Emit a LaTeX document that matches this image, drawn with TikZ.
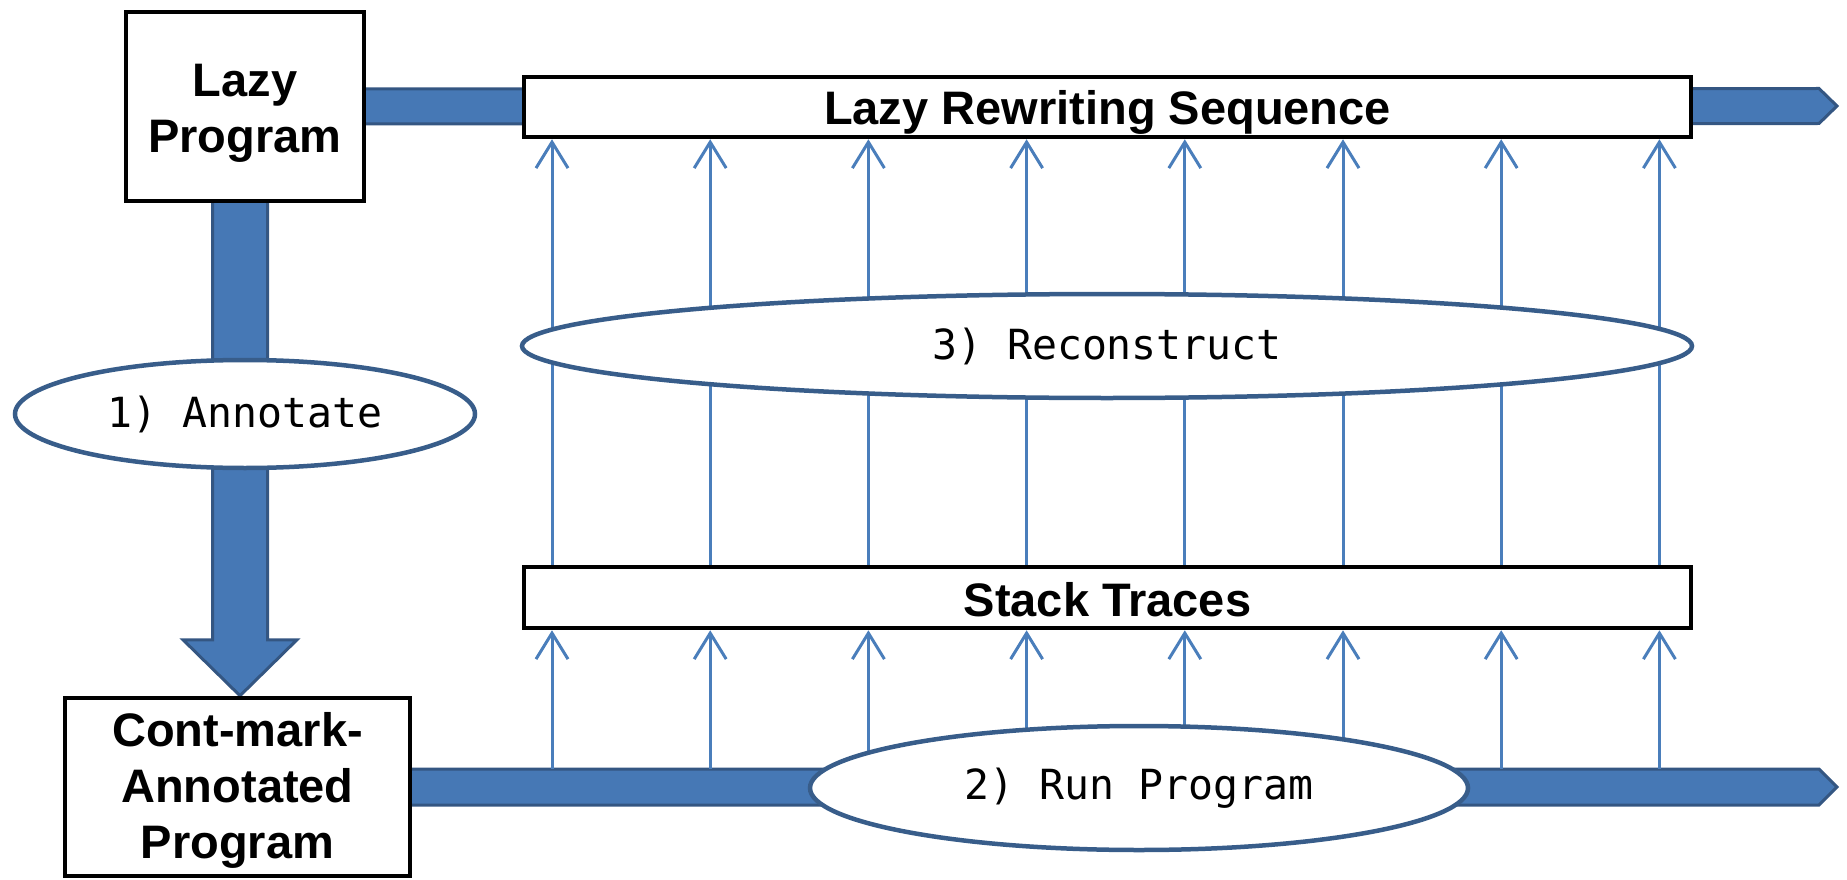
\documentclass[tikz,border=0pt]{standalone}
\usepackage{fontspec}
\setmainfont{Liberation Sans}
\newfontfamily\monofont{DejaVu Sans Mono}
\usetikzlibrary{calc,shapes.geometric,arrows.meta}
\definecolor{barfill}{RGB}{70,120,181}
\definecolor{bardraw}{RGB}{52,86,130}
\definecolor{thinblue}{RGB}{74,126,187}
\definecolor{ellline}{RGB}{56,93,138}
\pgfdeclarelayer{background}
\pgfsetlayers{background,main}
\newcommand{\lowtext}[2]{\raisebox{-#1}[\height][\depth]{#2}}
\newcommand{\stacklines}[1]{\begin{tabular}{@{}c@{}}#1\end{tabular}}
\begin{document}
\begin{tikzpicture}[x=1pt,y=-1pt,
  box/.style={draw=black,line width=4.5pt,fill=white,inner sep=0pt,
    font=\fontsize{47}{56}\selectfont\bfseries},
  bar/.style={fill=barfill,draw=bardraw,line width=3pt,line join=miter},
  thinarrow/.style={draw=thinblue,line width=3pt,
    -{Straight Barb[length=26pt,width=32pt,line width=3pt]}},
  ell/.style={ellipse,draw=ellline,line width=4.5pt,fill=white,inner sep=0pt,
    font=\monofont\fontsize{41.5}{50}\selectfont}]
\useasboundingbox (0,0) rectangle (1847,880);

% boxes
\node[box,minimum width=238pt,minimum height=189pt] (lazy) at (245,106.5) {\lowtext{7pt}{\stacklines{Lazy\\Program}}};
\node[box,minimum width=1167pt,minimum height=60pt] (seq) at (1107.5,107) {\lowtext{5pt}{Lazy Rewriting Sequence}};
\node[box,minimum width=1167pt,minimum height=61pt] (stack) at (1107.5,597.5) {\lowtext{2pt}{Stack Traces}};
\node[box,minimum width=345pt,minimum height=178pt] (cont) at (237.5,787) {\lowtext{4pt}{\stacklines{Cont-mark-\\Annotated\\Program}}};

% thick bars (behind boxes)
\coordinate (ttip) at (1837,106);
\coordinate (btip) at (1837,787);
\coordinate (vtip) at (240,0 |- cont.north);
\coordinate (vtop) at (240,0 |- lazy.center);
\coordinate (bartop) at ($(cont.east)+(0,-18)$);
\begin{pgfonlayer}{background}
  \path[bar] ($(lazy.center)+(0,-17.5)$) -- ($(ttip)+(-18,-17.5)$) -- (ttip)
    -- ($(ttip)+(-18,17.5)$) -- ($(lazy.center)+(0,17.5)$) -- cycle;
  \path[bar] ($(cont.center)+(0,-18)$) -- ($(btip)+(-18,-18)$) -- (btip)
    -- ($(btip)+(-18,18)$) -- ($(cont.center)+(0,18)$) -- cycle;
  \path[bar] ($(vtop)+(-27.5,0)$) -- ($(vtip)+(-27.5,-56)$) -- ($(vtip)+(-57,-56)$)
    -- (vtip) -- ($(vtip)+(57,-56)$) -- ($(vtip)+(27.5,-56)$) -- ($(vtop)+(27.5,0)$) -- cycle;
\end{pgfonlayer}

% thin arrows
\foreach \x in {552,710.2,868.4,1026.6,1184.8,1343,1501.2,1659.4} {
  \draw[thinarrow] (\x,0 |- stack.north) -- (\x,0 |- seq.south);
  \draw[thinarrow] (\x,0 |- bartop) -- (\x,0 |- stack.south);
}

% ellipses
\node[ell,minimum width=460pt,minimum height=108pt] (e1) at (245,414) {1) Annotate};
\node[ell,minimum width=1170pt,minimum height=104pt] (e3) at (1107,346) {3) Reconstruct};
\node[ell,minimum width=658pt,minimum height=124pt] (e2) at (1139,788) {2) Run Program};
\end{tikzpicture}
\end{document}
